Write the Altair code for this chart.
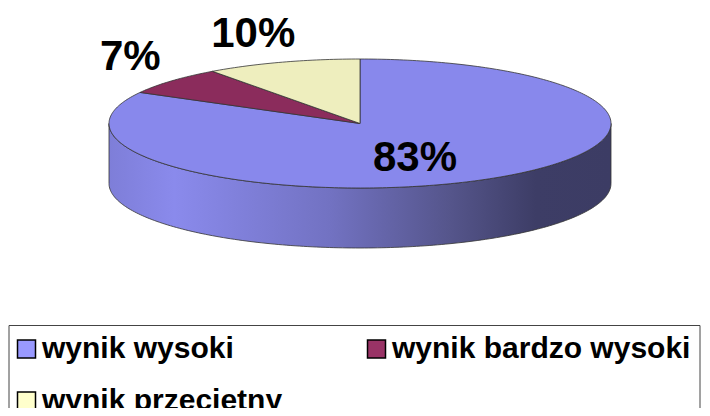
import math
import altair as alt
import pandas as pd

# ---- data ----
categories = ["wynik wysoki", "wynik bardzo wysoki", "wynik przeciętny"]
values = [83, 7, 10]
labels = ["83%", "7%", "10%"]

# ---- styles ----
top_colors = ["#8888ec", "#8b2c5c", "#eeeebe"]
legend_colors = ["#9999ff", "#993366", "#ffffcc"]
label_ku = [0.43, 1.22, 1.376]   # label distance factors (horizontal) along mid-angle
label_kv = [0.62, 1.57, 1.46]    # label distance factors (vertical) along mid-angle

# ---- geometry of the tilted pie (plot-area pixels) ----
W, H = 694, 400
CX, CY = 352.0, 115.5
RX, RY = 251.0, 64.5
DEPTH = 60.0

x_dom = [-CX / RX, (W - CX) / RX]
y_dom = [(CY - H) / RY, CY / RY]
D = DEPTH / RY

total = float(sum(values))
rows = []
mids = []
start = 0.0
for cat, v, col in zip(categories, values, top_colors):
    a0 = start
    a1 = start + v / total * 360.0
    mids.append((a0 + a1) / 2.0)
    pts = [(0.0, 0.0)]
    n = max(3, int(math.ceil(a1 - a0)) + 1)
    for k in range(n):
        a = math.radians(a0 + (a1 - a0) * k / (n - 1))
        pts.append((math.sin(a), math.cos(a)))
    pts.append((0.0, 0.0))
    for i, (u, w) in enumerate(pts):
        rows.append({"cat": cat, "fill": col, "idx": i, "u": u, "v": w})
    start = a1
slices_df = pd.DataFrame(rows)

side_rows = []
angles = list(range(90, 271))
for i, a in enumerate(angles):
    r = math.radians(a)
    side_rows.append({"idx": i, "u": math.sin(r), "v": math.cos(r)})
for j, a in enumerate(reversed(angles)):
    r = math.radians(a)
    side_rows.append({"idx": len(angles) + j, "u": math.sin(r), "v": math.cos(r) - D})
side_rows.append({"idx": 2 * len(angles), "u": 1.0, "v": 0.0})
side_df = pd.DataFrame(side_rows)

lab_rows = []
for cat, t, m, ku, kv in zip(categories, labels, mids, label_ku, label_kv):
    r = math.radians(m)
    lab_rows.append({"cat": cat, "text": t, "u": math.sin(r) * ku, "v": math.cos(r) * kv})
lab_df = pd.DataFrame(lab_rows)

# ---- chart ----
xs = alt.Scale(domain=x_dom, nice=False, zero=False)
ys = alt.Scale(domain=y_dom, nice=False, zero=False)
X = alt.X("u:Q", scale=xs, axis=None)
Y = alt.Y("v:Q", scale=ys, axis=None)

side_grad = alt.LinearGradient(
    gradient="linear", x1=0, x2=1, y1=0, y2=0,
    stops=[
        alt.GradientStop(color="#7e7ed8", offset=0),
        alt.GradientStop(color="#8a8aec", offset=0.13),
        alt.GradientStop(color="#7272c2", offset=0.44),
        alt.GradientStop(color="#55558b", offset=0.68),
        alt.GradientStop(color="#3d3d66", offset=0.85),
        alt.GradientStop(color="#3c3c64", offset=1),
    ],
)

side_layer = alt.Chart(side_df).mark_line(
    fill=side_grad, stroke="#333333", strokeWidth=0.8
).encode(x=X, y=Y, order=alt.Order("idx:Q"))

top_layer = alt.Chart(slices_df).mark_line(
    stroke="#333333", strokeWidth=0.8
).encode(
    x=X, y=Y, order=alt.Order("idx:Q"),
    fill=alt.Fill("fill:N", scale=None),
    detail="cat:N",
)

text_layer = alt.Chart(lab_df).mark_text(
    font="Liberation Sans", fontSize=42, fontWeight="bold", color="black",
    align="center", baseline="middle",
).encode(x=X, y=Y, text="text:N")

legend_layer = alt.Chart(pd.DataFrame({"cat": categories})).mark_square(
    size=324, opacity=1, filled=True
).encode(
    x=alt.value(-200), y=alt.value(-200),
    color=alt.Color(
        "cat:N",
        scale=alt.Scale(domain=categories, range=legend_colors),
        legend=alt.Legend(
            title=None, orient="none", legendX=0.5, legendY=317,
            direction="horizontal", columns=2, columnPadding=82, rowPadding=22,
            symbolType="square", symbolSize=324, symbolStrokeColor="black",
            symbolStrokeWidth=1.5, symbolOpacity=1,
            symbolOffset={"expr": "-6"},
            labelFont="Liberation Sans", labelFontSize=30, labelFontWeight="bold",
            labelColor="black", labelOffset=0.5, labelLimit=500,
            padding=9, strokeColor="#444444",
        ),
    ),
)

chart = alt.layer(side_layer, top_layer, text_layer, legend_layer).properties(
    width=W, height=H, autosize=alt.AutoSizeParams(type="none"), padding=0
).configure_view(stroke=None)

chart.save("out.html", embed_options={"renderer": "svg", "actions": False})
